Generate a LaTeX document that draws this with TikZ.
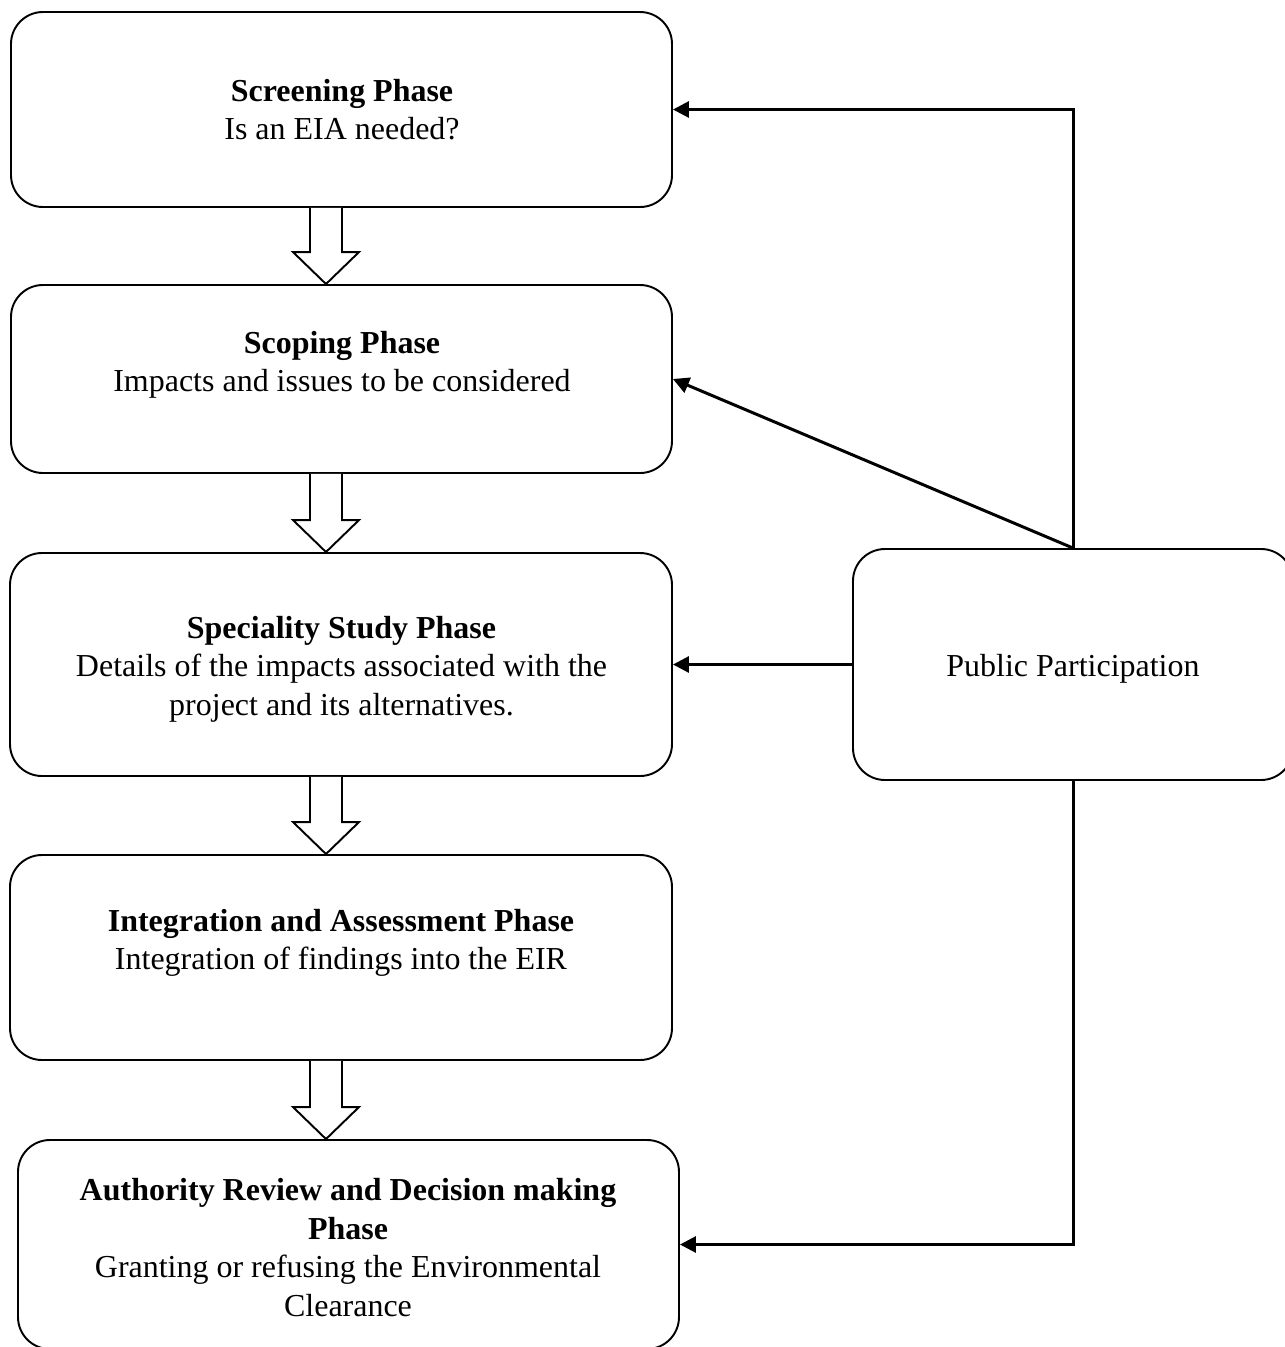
\documentclass[tikz,border=0pt]{standalone}
\usepackage{fontspec}
\setmainfont{Liberation Serif}
\usetikzlibrary{calc,arrows.meta}
\begin{document}
\begin{tikzpicture}[x=0.02cm,y=-0.02cm,
  phasebox/.style={draw=black,line width=1.1pt,rounded corners=0.64cm,fill=white,inner sep=0pt},
  phasetext/.style={align=center,inner sep=0pt,font=\fontsize{18.2}{21.9}\selectfont},
  feed/.style={draw=black,line width=1.7pt,-{Triangle[length=0.32cm,width=0.32cm]}},
  hollow/.style={draw=black,line width=1.1pt,fill=white,line join=miter}]
\useasboundingbox (0,0) rectangle (1285,1347);

% phase boxes
\node[phasebox,minimum width=661*0.02cm,minimum height=195*0.02cm] (scr) at (341.5,109.5) {};
\node[phasebox,minimum width=661*0.02cm,minimum height=188*0.02cm] (sco) at (341.5,379) {};
\node[phasebox,minimum width=662*0.02cm,minimum height=223*0.02cm] (spe) at (341,664.5) {};
\node[phasebox,minimum width=662*0.02cm,minimum height=205*0.02cm] (int) at (341,957.5) {};
\node[phasebox,minimum width=661*0.02cm,minimum height=209*0.02cm] (aut) at (348.5,1244.5) {};
\node[phasebox,minimum width=440*0.02cm,minimum height=231*0.02cm] (pp) at (1073,664.5) {};

% texts
\node[phasetext] (scrT) at (342,109.5) {\textbf{Screening Phase}\\Is an EIA needed?};
\node[phasetext] (scoT) at (342,365) {\textbf{Scoping Phase}\\Impacts and issues to be considered};
\node[phasetext] (speT) at (341.5,669) {\textbf{Speciality Study Phase}\\Details of the impacts associated with the\\project and its alternatives.};
\node[phasetext] (intT) at (341,943) {\textbf{Integration and Assessment Phase}\\Integration of findings into the EIR};
\node[phasetext] (autT) at (348,1247.5) {\textbf{Authority Review and Decision making}\\\textbf{Phase}\\Granting or refusing the Environmental\\Clearance};
\node[phasetext] (ppT) at (1073,668.5) {Public Participation};

% hollow block arrows between consecutive phases
\coordinate (ax) at (326,0);
\newcommand{\hollowdown}[2]{%
  \draw[hollow] ($(#1.south -| ax)+(-16,0)$) -- ($(#2.north -| ax)+(-16,-32)$)
    -- ($(#2.north -| ax)+(-33,-32)$) -- (#2.north -| ax)
    -- ($(#2.north -| ax)+(33,-32)$) -- ($(#2.north -| ax)+(16,-32)$)
    -- ($(#1.south -| ax)+(16,0)$);}
\hollowdown{scr}{sco}
\hollowdown{sco}{spe}
\hollowdown{spe}{int}
\hollowdown{int}{aut}

% public participation feedback
\draw[feed] (pp.north) |- (scr.east);
\draw[feed] (pp.north) -- (sco.east);
\draw[feed] (pp.west) -- (spe.east);
\draw[feed] (pp.south) |- (aut.east);
\end{tikzpicture}
\end{document}
